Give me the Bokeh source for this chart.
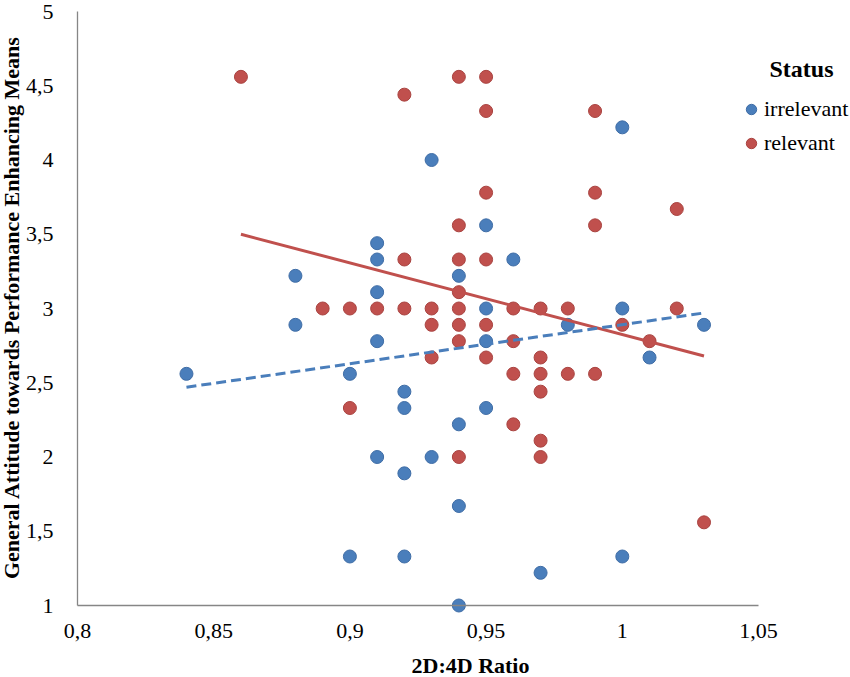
import math
from bokeh.plotting import figure
from bokeh.models import Range1d, FixedTicker, Legend, LegendItem, Label
from bokeh.embed import file_html
from bokeh.resources import INLINE

# ---- data ----
irr_x = [0.84, 0.88, 0.88, 0.90, 0.90, 0.91, 0.91, 0.91, 0.91, 0.91,
         0.92, 0.92, 0.92, 0.92, 0.93, 0.93, 0.94, 0.94, 0.94, 0.94,
         0.95, 0.95, 0.95, 0.95, 0.96, 0.97, 0.98, 1.00, 1.00, 1.00,
         1.01, 1.03]
irr_y = [2.56, 3.22, 2.89, 2.56, 1.33, 3.44, 3.33, 3.11, 2.78, 2.00,
         2.44, 2.33, 1.89, 1.33, 4.00, 2.00, 3.22, 2.22, 1.67, 1.00,
         3.56, 3.00, 2.78, 2.33, 3.33, 1.22, 2.89, 4.22, 3.00, 1.33,
         2.67, 2.89]

rel_x = [0.86, 0.89, 0.90, 0.90, 0.91, 0.92, 0.92, 0.92, 0.93, 0.93,
         0.93, 0.94, 0.94, 0.94, 0.94, 0.94, 0.94, 0.94, 0.94, 0.95,
         0.95, 0.95, 0.95, 0.95, 0.95, 0.96, 0.96, 0.96, 0.96, 0.97,
         0.97, 0.97, 0.97, 0.97, 0.97, 0.98, 0.98, 0.99, 0.99, 0.99,
         0.99, 1.00, 1.01, 1.02, 1.02, 1.03]
rel_y = [4.56, 3.00, 3.00, 2.33, 3.00, 4.44, 3.33, 3.00, 3.00, 2.89,
         2.67, 4.56, 3.56, 3.33, 3.11, 3.00, 2.89, 2.78, 2.00, 4.56,
         4.33, 3.78, 3.33, 2.89, 2.67, 3.00, 2.78, 2.56, 2.22, 3.00,
         2.67, 2.56, 2.44, 2.11, 2.00, 3.00, 2.56, 4.33, 3.78, 3.56,
         2.56, 2.89, 2.78, 3.67, 3.00, 1.56]

# linear trend lines as drawn in the reference (end points)
irr_trend_x = [0.84, 1.03]
irr_trend_y = [2.47, 2.97]
rel_trend_x = [0.86, 1.03]
rel_trend_y = [3.50, 2.68]

x_ticks = [0.8, 0.85, 0.9, 0.95, 1.0, 1.05]
x_tick_labels = ["0,8", "0,85", "0,9", "0,95", "1", "1,05"]
y_ticks = [1.0, 1.5, 2.0, 2.5, 3.0, 3.5, 4.0, 4.5, 5.0]
y_tick_labels = ["1", "1,5", "2", "2,5", "3", "3,5", "4", "4,5", "5"]

series_names = ["irrelevant", "relevant"]
legend_title = "Status"
x_title = "2D:4D Ratio"
y_title = "General Attitude towards Performance Enhancing Means"

FONT = "Liberation Serif"
BLUE = "#4A7EBB"
BLUE_EDGE = "#3F6DA6"
RED = "#C0504D"
RED_EDGE = "#A94340"
AXIS = "#868686"

# ---- layout: the frame fills the whole canvas, axes are placed inside ----
W, H = 850, 677
X_AXIS_LEFT = 77          # canvas x of x = 0.8
X_PX = 681 / 0.25         # pixels per x unit
Y_TOP = 11                # canvas y of y = 5
Y_AXIS = 605              # canvas y of y = 1
Y_PX = (Y_AXIS - Y_TOP) / 4.0

x_start = 0.8 - X_AXIS_LEFT / X_PX
x_end = 0.8 + (W - X_AXIS_LEFT) / X_PX
y_end = 5.0 + Y_TOP / Y_PX
y_start = 1.0 - (H - Y_AXIS) / Y_PX

p = figure(width=W, height=H,
           x_range=Range1d(x_start, x_end), y_range=Range1d(y_start, y_end),
           output_backend="svg", toolbar_location=None,
           min_border=0, min_border_left=0, min_border_right=0,
           min_border_top=0, min_border_bottom=0)
p.outline_line_color = None
p.xgrid.visible = False
p.ygrid.visible = False
p.background_fill_color = "white"
p.border_fill_color = "white"

# axes
xa = p.xaxis[0]
ya = p.yaxis[0]
xa.ticker = FixedTicker(ticks=x_ticks)
ya.ticker = FixedTicker(ticks=y_ticks)
xa.major_label_overrides = dict(zip(x_ticks, x_tick_labels))
ya.major_label_overrides = dict(zip(y_ticks, y_tick_labels))
for ax in (xa, ya):
    ax.axis_line_color = AXIS
    ax.axis_line_width = 1.3
    ax.major_tick_line_color = None
    ax.minor_tick_line_color = None
    ax.major_tick_out = 0
    ax.major_tick_in = 0
    ax.major_label_text_font = FONT
    ax.major_label_text_font_size = "22px"
    ax.major_label_text_color = "#000000"
xa.fixed_location = 1.0
ya.fixed_location = 0.8
xa.bounds = (0.8, 1.05)
ya.bounds = (1.0, 5.0)
xa.major_label_standoff = 18
ya.major_label_standoff = 24

# points
r_irr = p.scatter(irr_x, irr_y, size=13, marker="circle",
                  fill_color=BLUE, line_color=BLUE_EDGE, line_width=1)
r_rel = p.scatter(rel_x, rel_y, size=13, marker="circle",
                  fill_color=RED, line_color=RED_EDGE, line_width=1)

# trend lines
p.line(rel_trend_x, rel_trend_y, line_color=RED, line_width=3)
p.line(irr_trend_x, irr_trend_y, line_color=BLUE, line_width=3,
       line_dash="10 5")

# axis titles
p.add_layout(Label(x=470, y=12, x_units="screen", y_units="screen",
                   text=x_title, text_align="center",
                   text_baseline="alphabetic", text_font=FONT,
                   text_font_size="22px", text_font_style="bold",
                   text_color="#000000"))
p.add_layout(Label(x=11, y=370, x_units="screen", y_units="screen",
                   text=y_title, angle=math.pi / 2, text_align="center",
                   text_baseline="middle", text_font=FONT,
                   text_font_size="22px", text_font_style="bold",
                   text_color="#000000"))

# legend
legend = Legend(items=[LegendItem(label=series_names[0], renderers=[r_irr]),
                       LegendItem(label=series_names[1], renderers=[r_rel])],
                location=(738, 520), orientation="vertical",
                glyph_width=26, glyph_height=26, label_standoff=0,
                label_height=28, spacing=6, padding=0, margin=0,
                border_line_color=None, background_fill_alpha=0,
                label_text_font=FONT, label_text_font_size="22px",
                label_text_color="#000000")
p.add_layout(legend, "center")
p.add_layout(Label(x=801, y=609, x_units="screen", y_units="screen",
                   text=legend_title, text_align="center",
                   text_baseline="middle", text_font=FONT,
                   text_font_size="24px", text_font_style="bold",
                   text_color="#000000"))

open("out.html", "w").write(file_html(p, INLINE))
